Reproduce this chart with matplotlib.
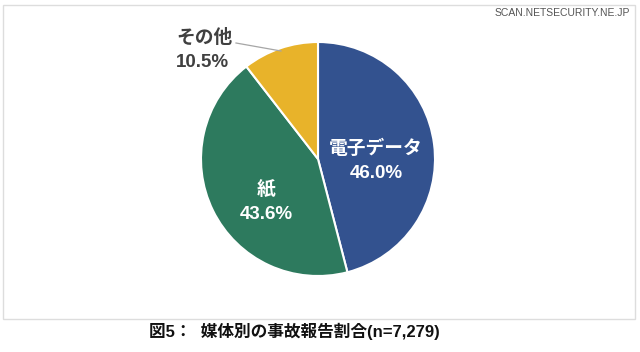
import matplotlib
matplotlib.use("Agg")
import matplotlib.pyplot as plt
from matplotlib.patches import Rectangle

categories = ["電子データ", "紙", "その他"]
values = [46.0, 43.6, 10.5]
colors = ["#33528F", "#2D7A5E", "#E8B32A"]
title = "図5：  媒体別の事故報告割合(n=7,279)"
watermark = "SCAN.NETSECURITY.NE.JP"

fam = ["Liberation Sans", "Noto Sans CJK JP", "DejaVu Sans"]
plt.rcParams["font.family"] = fam

fig = plt.figure(figsize=(6.4, 3.52), dpi=100)
fig.patch.set_facecolor("white")

# frame
fig.patches.append(Rectangle((3/640, 1-319/352), 632/640, 314/352, transform=fig.transFigure,
                             fill=False, edgecolor="#DDDDDD", linewidth=1.0))

ax = fig.add_axes([(318-117)/640, (352-159-117)/352, 234/640, 234/352])
wedges, _ = ax.pie(values, colors=colors, startangle=90, counterclock=False,
                   wedgeprops=dict(edgecolor="white", linewidth=1.5))
ax.set_aspect("equal")
ax.set_xlim(-1, 1)
ax.set_ylim(-1, 1)

fig.text(376/640, 1-161/352, f"{categories[0]}\n{values[0]:.1f}%", color="white", fontsize=13.5,
         fontweight="bold", ha="center", va="center", linespacing=1.5)
fig.text(266/640, 1-202/352, f"{categories[1]}\n{values[1]:.1f}%", color="white", fontsize=13.5,
         fontweight="bold", ha="center", va="center", linespacing=1.5)
fig.text(176/640, 1-50/352, f"{categories[2]}\n{values[2]:.1f}%", color="#404040", fontsize=13.5,
         fontweight="bold", ha="left", va="center", linespacing=1.5)
fig.add_artist(plt.Line2D([236/640, 281/640], [1-43/352, 1-51/352], color="#A6A6A6", linewidth=0.9))

fig.text(294/640, 1-331/352, title, fontsize=12, fontweight="bold", ha="center", va="center", color="#111111")
fig.text(630/640, 1-13/352, watermark, fontsize=7.5, ha="right", va="center", color="#555555")

fig.savefig("out.png", dpi=100)
